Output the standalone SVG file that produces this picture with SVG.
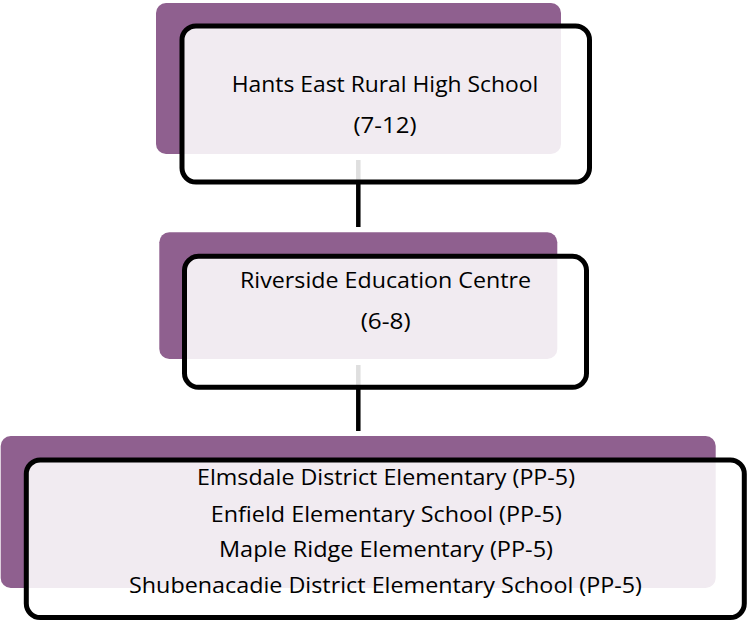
<svg xmlns="http://www.w3.org/2000/svg" width="747" height="622" viewBox="0 0 747 622">
<style>
.back{fill:#8F608F}
.card{fill:#FFFFFF;fill-opacity:0.875;stroke:#000000;stroke-width:5}
.conn{stroke:#000000;stroke-width:4.5;fill:none}
.t{font-family:"Open Sans","Liberation Sans",Arial,sans-serif;font-size:22px;fill:#000000;text-anchor:middle}
</style>
<rect width="747" height="622" fill="#FFFFFF"/>
<g id="node-backs">
<rect class="back" x="156" y="3" width="405" height="151" rx="10"/>
<rect class="back" x="159.3" y="232.3" width="398" height="126.7" rx="10"/>
<rect class="back" x="0.7" y="436" width="715" height="152" rx="10"/>
</g>
<g id="connectors">
<line class="conn" x1="358.3" y1="160" x2="358.3" y2="227"/>
<line class="conn" x1="358.3" y1="365" x2="358.3" y2="431"/>
</g>
<g id="node-hants-east">
<rect class="card" x="182" y="26" width="407.5" height="156" rx="14"/>
<text class="t" x="385" y="92" textLength="306.6" lengthAdjust="spacingAndGlyphs">Hants East Rural High School</text>
<text class="t" x="385" y="133" textLength="63" lengthAdjust="spacingAndGlyphs">(7-12)</text>
</g>
<g id="node-riverside">
<rect class="card" x="184.5" y="256.3" width="402" height="131" rx="14"/>
<text class="t" x="385.5" y="288.3" textLength="291" lengthAdjust="spacingAndGlyphs">Riverside Education Centre</text>
<text class="t" x="385.7" y="329.3" textLength="50" lengthAdjust="spacingAndGlyphs">(6-8)</text>
</g>
<g id="node-elementary">
<rect class="card" x="26.3" y="460" width="718" height="157.5" rx="14"/>
<text class="t" x="386" y="485" textLength="378" lengthAdjust="spacingAndGlyphs">Elmsdale District Elementary (PP-5)</text>
<text class="t" x="386.3" y="522" textLength="351" lengthAdjust="spacingAndGlyphs">Enfield Elementary School (PP-5)</text>
<text class="t" x="386" y="557" textLength="334" lengthAdjust="spacingAndGlyphs">Maple Ridge Elementary (PP-5)</text>
<text class="t" x="385.5" y="593" textLength="513" lengthAdjust="spacingAndGlyphs">Shubenacadie District Elementary School (PP-5)</text>
</g>
</svg>
